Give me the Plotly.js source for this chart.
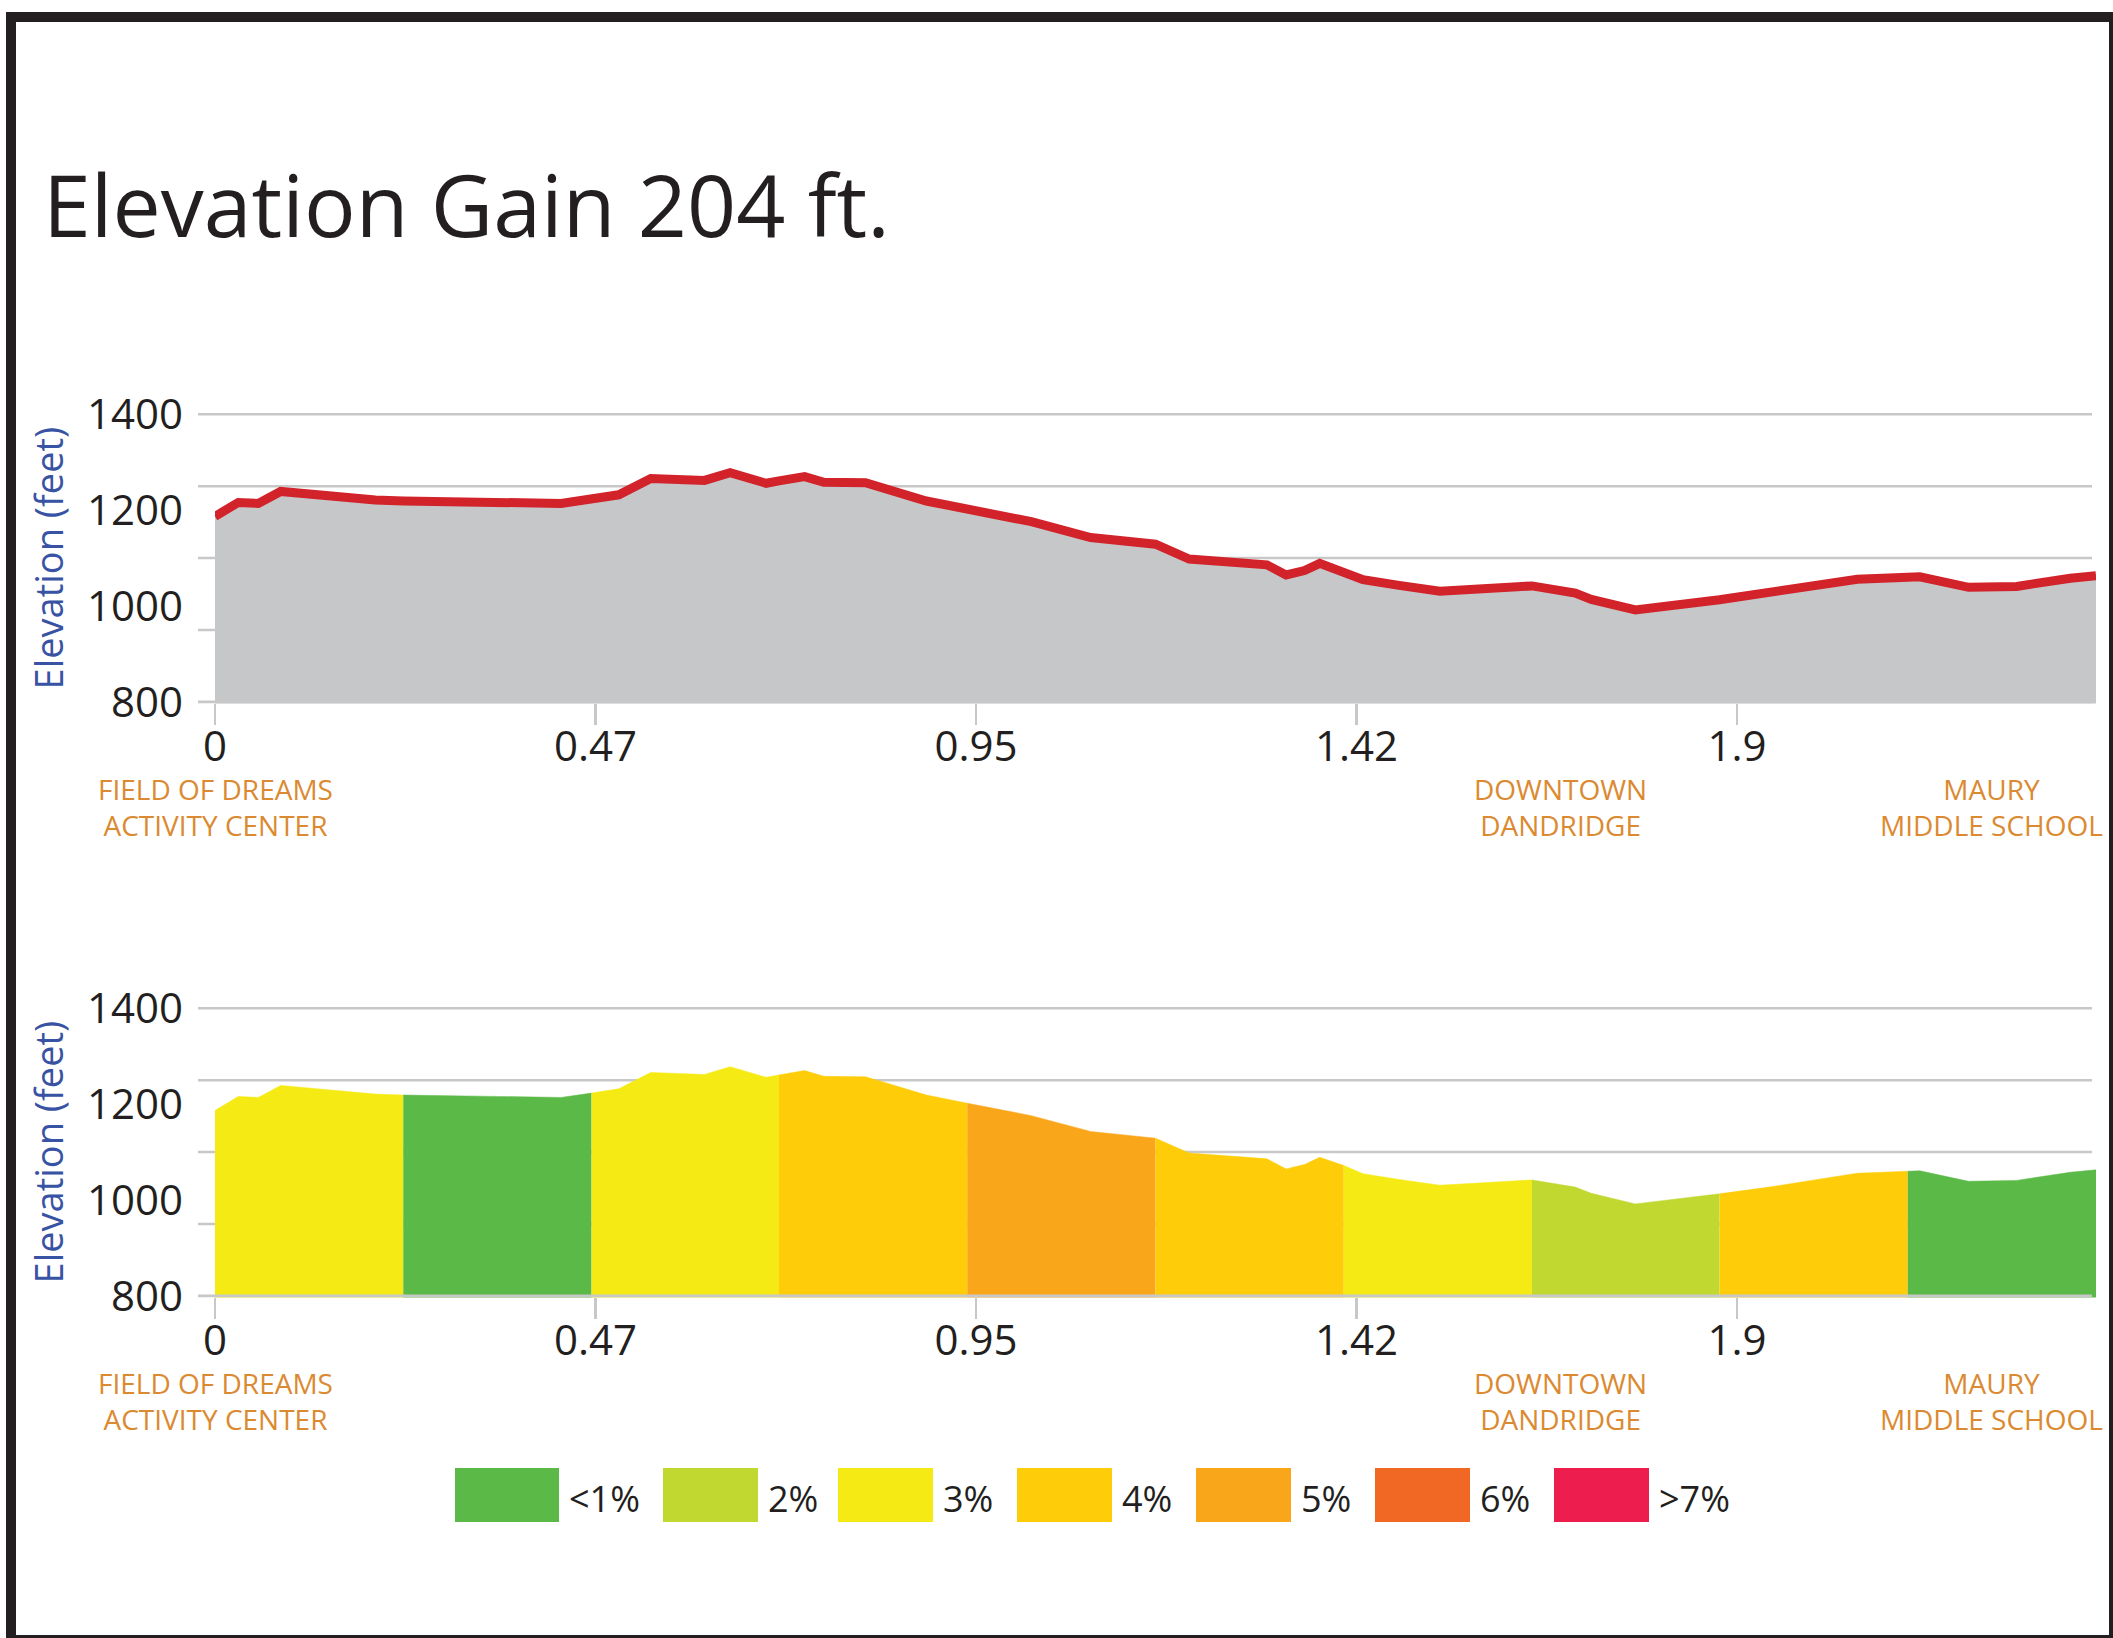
<!DOCTYPE html>
<html>
<head>
<meta charset="utf-8">
<script src="https://cdn.plot.ly/plotly-3.0.1.min.js"></script>
<style>html,body{margin:0;padding:0;background:#fff;overflow:hidden}</style>
</head>
<body>
<div id="chart" style="width:2113px;height:1638px"></div>
<script>
// ---------------- DATA ----------------
const titleText = 'Elevation Gain 204 ft.';
const yAxisTitle = 'Elevation (feet)';

// route profile: distance (miles) and elevation (feet)
const distanceMiles = [0.000, 0.029, 0.054, 0.082, 0.200, 0.235, 0.432, 0.470, 0.504, 0.544,
  0.611, 0.643, 0.688, 0.704, 0.736, 0.760, 0.812, 0.888, 0.939, 1.019,
  1.093, 1.174, 1.216, 1.313, 1.337, 1.360, 1.379, 1.409, 1.433, 1.478,
  1.529, 1.644, 1.698, 1.718, 1.773, 1.878, 1.940, 2.050, 2.113, 2.128,
  2.189, 2.249, 2.316, 2.348];
const elevationFeet = [1187, 1216, 1214, 1239, 1221, 1219, 1214, 1223, 1232, 1266,
  1262, 1278, 1256, 1261, 1270, 1258, 1257, 1219, 1202, 1176,
  1143, 1129, 1098, 1086, 1065, 1074, 1089, 1072, 1055, 1043,
  1031, 1042, 1027, 1014, 992, 1013, 1027, 1056, 1060, 1061,
  1039, 1041, 1058, 1063];

// grade segments of the lower chart
const segmentEdgesMiles = [0, 0.235, 0.470, 0.704, 0.939, 1.174, 1.409, 1.644, 1.878, 2.113, 2.348];
const segmentGrades = ['3%', '<1%', '3%', '4%', '5%', '4%', '3%', '2%', '4%', '<1%'];

// legend categories
const gradeLabels = ['<1%', '2%', '3%', '4%', '5%', '6%', '>7%'];
const gradeColors = ['#5BB947', '#C0D830', '#F5EA14', '#FECC08', '#FAA61A', '#F16824', '#ED1E4D'];

// axes
const xTickVals = [0, 0.475, 0.95, 1.425, 1.9];
const xTickText = ['0', '0.47', '0.95', '1.42', '1.9'];
const yTickVals = [800, 1000, 1200, 1400];
const yGridVals = [800, 950, 1100, 1250, 1400];

// places along the route
const placeNames = ['FIELD OF DREAMS<br>ACTIVITY CENTER', 'DOWNTOWN<br>DANDRIDGE', 'MAURY<br>MIDDLE SCHOOL'];
const placeMiles = [0, 1.68, 2.218];

// ---------------- LAYOUT HELPERS ----------------
const W = 2113, H = 1638;
const px = v => v / W;
const py = v => 1 - v / H;
const FONT = '"Open Sans", "Noto Sans", sans-serif';
const INK = '#231F20';
const GRID = '#C8C8C8';
const ORANGE = '#DB8A31';
const BLUE = '#3953A4';
const GRAY_FILL = '#C6C7C9';
const RED = '#D2232A';

const xDomain = [px(215), px(2096)];
const panels = [
  {x: 'x', y: 'y', domain: [py(703.4), py(412.8)], placeY: 807},
  {x: 'x2', y: 'y2', domain: [py(1297.4), py(1006.8)], placeY: 1401}
];
const yRange = [797, 1403];
const xRange = [0, distanceMiles[distanceMiles.length - 1]];

const esc = s => s.replace(/</g, '&lt;').replace(/>/g, '&gt;');
const colorOf = {};
gradeLabels.forEach((g, i) => { colorOf[g] = gradeColors[i]; });

// ---------------- TRACES ----------------
const traces = [];
traces.push({
  type: 'scatter', x: distanceMiles, y: elevationFeet, xaxis: 'x', yaxis: 'y',
  mode: 'lines', fill: 'tozeroy', fillcolor: GRAY_FILL,
  line: {color: RED, width: 9}, hoverinfo: 'skip', showlegend: false
});
segmentGrades.forEach((g, i) => {
  const a = segmentEdgesMiles[i], b = segmentEdgesMiles[i + 1];
  const xs = [], ys = [];
  distanceMiles.forEach((d, k) => {
    if (d >= a - 1e-9 && d <= b + 1e-9) { xs.push(d); ys.push(elevationFeet[k]); }
  });
  traces.push({
    type: 'scatter', x: xs, y: ys, xaxis: 'x2', yaxis: 'y2',
    mode: 'lines', fill: 'tozeroy', fillcolor: colorOf[g],
    line: {color: colorOf[g], width: 0.5}, hoverinfo: 'skip', showlegend: false
  });
});

// ---------------- LAYOUT ----------------
const layout = {
  width: W, height: H,
  margin: {l: 0, r: 0, t: 0, b: 0},
  paper_bgcolor: '#ffffff', plot_bgcolor: 'rgba(0,0,0,0)',
  showlegend: false,
  title: {
    text: titleText, font: {family: FONT, size: 86, color: INK},
    x: px(43), xref: 'paper', xanchor: 'left', y: py(207), yref: 'paper', yanchor: 'middle'
  },
  annotations: [],
  shapes: []
};

panels.forEach((p, idx) => {
  const xa = idx === 0 ? 'xaxis' : 'xaxis2';
  const ya = idx === 0 ? 'yaxis' : 'yaxis2';
  layout[xa] = {
    domain: xDomain, range: xRange, anchor: p.y,
    tickmode: 'array', tickvals: xTickVals, ticktext: xTickText,
    ticks: 'outside', ticklen: 21, tickwidth: 2.7, tickcolor: GRID,
    showline: false, showgrid: false, zeroline: false, fixedrange: true,
    tickfont: {family: FONT, size: 42, color: INK},
    ticklabelstandoff: -15
  };
  layout[ya] = {
    domain: p.domain, range: yRange, anchor: p.x,
    tickmode: 'array', tickvals: yTickVals, ticks: '',
    showgrid: false, zeroline: false, showline: false, fixedrange: true,
    tickfont: {family: FONT, size: 42, color: INK},
    ticklabelstandoff: 31,
    title: {text: yAxisTitle, font: {family: FONT, size: 38, color: BLUE}, standoff: 11}
  };
  // horizontal grid lines (extend a little left of the plot, like the reference)
  yGridVals.forEach((v, k) => {
    layout.shapes.push({
      type: 'line', xref: 'paper', yref: p.y,
      x0: px(198), x1: px(2092), y0: v, y1: v,
      line: {color: GRID, width: k === 0 ? 3 : 2.5},
      layer: k === 0 ? 'above' : 'below'
    });
  });
  placeNames.forEach((name, k) => {
    layout.annotations.push({
      text: name, x: placeMiles[k], xref: p.x, y: py(p.placeY), yref: 'paper',
      xanchor: 'center', yanchor: 'middle', align: 'center', showarrow: false,
      font: {family: FONT, size: 28, color: ORANGE}
    });
  });
});

// legend (boxes + labels)
const legendBoxLeft = [455, 663, 838, 1017, 1196, 1375, 1554];
const legendBoxWidth = [104, 95, 95, 95, 95, 95, 95];
gradeLabels.forEach((g, i) => {
  const x0 = legendBoxLeft[i], x1 = x0 + legendBoxWidth[i];
  layout.shapes.push({
    type: 'rect', xref: 'paper', yref: 'paper',
    x0: px(x0), x1: px(x1), y0: py(1522), y1: py(1468),
    fillcolor: gradeColors[i], line: {width: 0}
  });
  layout.annotations.push({
    text: esc(g), x: px(x1 + 8), xref: 'paper', y: py(1498), yref: 'paper',
    xanchor: 'left', yanchor: 'middle', showarrow: false,
    font: {family: FONT, size: 36, color: INK}
  });
});

// frame
layout.shapes.push({
  type: 'rect', xref: 'paper', yref: 'paper',
  x0: px(11), x1: px(2114), y0: py(1640), y1: py(17),
  line: {color: INK, width: 10}, fillcolor: 'rgba(0,0,0,0)', layer: 'above'
});

Plotly.newPlot('chart', traces, layout, {staticPlot: true, displayModeBar: false});
</script>
</body>
</html>
